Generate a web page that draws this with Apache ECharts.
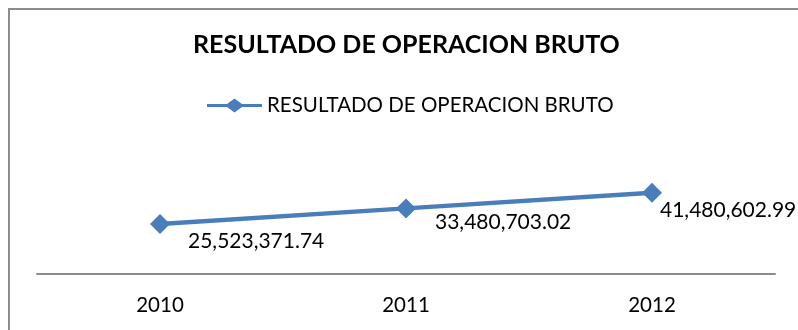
<!DOCTYPE html>
<html>
<head>
<meta charset="utf-8">
<script src="https://cdn.jsdelivr.net/npm/echarts@6/dist/echarts.min.js"></script>
<style>
  html, body { margin: 0; padding: 0; background: #fff; }
  #frame { position: absolute; left: 8px; top: 8px; width: 790px; height: 330px; border-left: 2px solid #8c8c8c; border-top: 2px solid #8c8c8c; box-sizing: border-box; }
  #chart { position: absolute; left: 0; top: 0; width: 798px; height: 330px; }
</style>
</head>
<body>
<div id="frame"></div>
<div id="chart"></div>
<script>
// Gross operating result by year
const years = ['2010', '2011', '2012'];
const resultadoBruto = [25523371.74, 33480703.02, 41480602.99];
const seriesName = 'RESULTADO DE OPERACION BRUTO';
const chartTitle = 'RESULTADO DE OPERACION BRUTO';

// label placement next to each marker (dx, dy)
const labelOffsets = [[13, 17], [14, 14], [-7, 18]];

const fmt = v => v.toLocaleString('en-US', { minimumFractionDigits: 2, maximumFractionDigits: 2 });
const FONT = 'Lato, "Open Sans", sans-serif';
const BLUE = '#4a7ebb';

// Legend key: thick line with a centred diamond, like the series stroke
const legendKey = 'path://M0,8.5 L20,8.5 L27.5,3 L35,8.5 L55,8.5 L55,11.5 L35,11.5 L27.5,17 L20,11.5 L0,11.5 Z';

const chart = echarts.init(document.getElementById('chart'), null, { renderer: 'canvas' });
chart.setOption({
  animation: false,
  backgroundColor: 'transparent',
  title: {
    text: chartTitle,
    left: 193,
    top: 32,
    padding: 0,
    textStyle: { fontFamily: FONT, fontWeight: 'bold', fontSize: 25, color: '#000' }
  },
  legend: {
    top: 95,
    left: 207,
    padding: 0,
    itemWidth: 55,
    itemHeight: 20,
    itemGap: 4,
    textStyle: { fontFamily: FONT, fontSize: 20.5, color: '#000' },
    data: [{ name: seriesName, icon: legendKey, itemStyle: { color: BLUE } }]
  },
  grid: { left: 37, right: 23, top: 176, bottom: 56, containLabel: false },
  xAxis: {
    type: 'category',
    data: years,
    boundaryGap: true,
    axisLine: { lineStyle: { color: '#8c8c8c', width: 2 } },
    axisTick: { show: false },
    axisLabel: { fontFamily: FONT, fontSize: 20.5, color: '#000', margin: 21 }
  },
  yAxis: {
    type: 'value',
    min: 0,
    max: 50000000,
    show: false,
    splitLine: { show: false }
  },
  series: [{
    name: seriesName,
    type: 'line',
    data: resultadoBruto.map((v, i) => ({
      value: v,
      label: { offset: labelOffsets[i] }
    })),
    symbol: 'diamond',
    symbolSize: [20, 20],
    showAllSymbol: true,
    lineStyle: { color: BLUE, width: 4.5 },
    itemStyle: { color: BLUE },
    label: {
      show: true,
      position: 'right',
      fontFamily: FONT,
      fontSize: 21,
      color: '#000',
      formatter: p => fmt(p.value)
    }
  }]
});
</script>
</body>
</html>
